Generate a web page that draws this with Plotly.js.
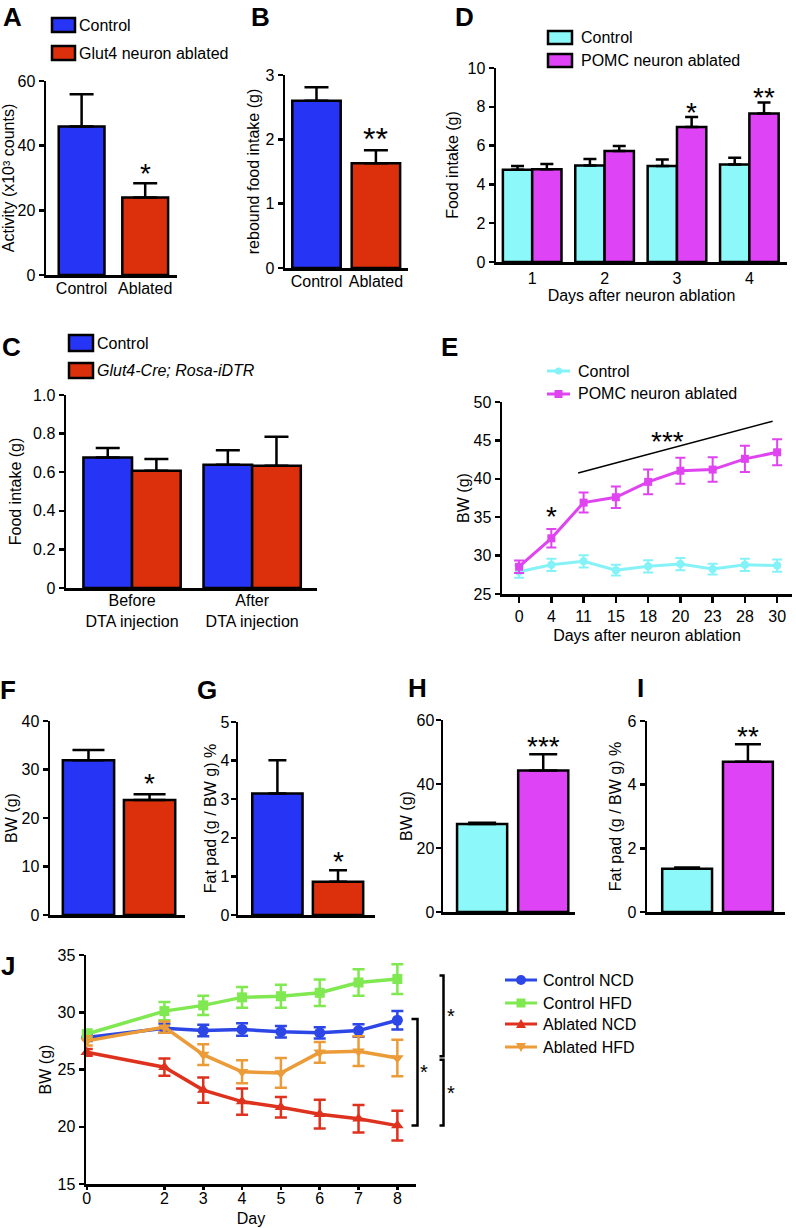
<!DOCTYPE html>
<html>
<head>
<meta charset="utf-8">
<script src="https://cdn.plot.ly/plotly-3.0.1.min.js"></script>
<style>
  html, body { margin: 0; padding: 0; background: #ffffff; }
  #chart { width: 796px; height: 1228px; }
</style>
</head>
<body>
<div id="chart"></div>
<script>
// ================= DATA =================
// Panel A – activity
const aCategories = ['Control', 'Ablated'];
const aActivity = [45.9, 24.0];
const aActivityErr = [10.0, 4.4];
const aStars = ['', '*'];
const aLegend = ['Control', 'Glut4 neuron ablated'];

// Panel B – rebound food intake
const bCategories = ['Control', 'Ablated'];
const bRebound = [2.60, 1.63];
const bReboundErr = [0.21, 0.20];
const bStars = ['', '**'];

// Panel C – food intake before / after DTA
const cCategories = ['Before<br>DTA injection', 'After<br>DTA injection'];
const cControl = [0.676, 0.638];
const cControlErr = [0.049, 0.076];
const cGlut4 = [0.607, 0.633];
const cGlut4Err = [0.061, 0.151];
const cLegend = ['Control', 'Glut4-Cre; Rosa-iDTR'];
const cTickVals = [0, 0.2, 0.4, 0.6, 0.8, 1.0];
const cTickText = ['0', '0.2', '0.4', '0.6', '0.8', '1.0'];

// Panel D – food intake after POMC ablation
const dDays = ['1', '2', '3', '4'];
const dControl = [4.76, 4.98, 4.95, 5.02];
const dControlErr = [0.19, 0.33, 0.33, 0.36];
const dPomc = [4.78, 5.72, 6.96, 7.65];
const dPomcErr = [0.27, 0.26, 0.52, 0.57];
const dStars = ['', '', '*', '**'];
const dLegend = ['Control', 'POMC neuron ablated'];

// Panel E – body weight time course
const eDays = ['0', '4', '11', '15', '18', '20', '23', '28', '30'];
const eControl = [27.9, 28.8, 29.25, 28.1, 28.6, 28.9, 28.25, 28.8, 28.7];
const eControlErr = [0.8, 0.8, 0.8, 0.7, 0.8, 0.8, 0.7, 0.8, 0.8];
const ePomc = [28.55, 32.25, 36.9, 37.6, 39.6, 41.05, 41.2, 42.6, 43.45];
const ePomcErr = [0.8, 1.2, 1.3, 1.4, 1.6, 1.7, 1.6, 1.7, 1.7];
const eLegend = ['Control', 'POMC neuron ablated'];

// Panels F, G – Glut4 ablation
const fgCategories = ['Control', 'Glut4 neuron ablated'];
const fBW = [31.9, 23.7];
const fBWErr = [2.1, 1.2];
const fStars = ['', '*'];
const gFat = [3.15, 0.86];
const gFatErr = [0.86, 0.30];
const gStars = ['', '*'];

// Panels H, I – POMC ablation
const hiCategories = ['Control', 'POMC neuron ablated'];
const hBW = [27.5, 44.2];
const hBWErr = [0.4, 5.1];
const hStars = ['', '***'];
const iFat = [1.36, 4.72];
const iFatErr = [0.04, 0.55];
const iStars = ['', '**'];

// Panel J – diet time course
const jDays = [0, 2, 3, 4, 5, 6, 7, 8];
const jControlNCD = [27.8, 28.6, 28.4, 28.5, 28.3, 28.2, 28.4, 29.3];
const jControlNCDErr = [0.3, 0.4, 0.5, 0.55, 0.5, 0.5, 0.55, 0.8];
const jControlHFD = [28.1, 30.1, 30.6, 31.3, 31.4, 31.7, 32.6, 32.9];
const jControlHFDErr = [0.4, 0.8, 0.85, 0.9, 1.0, 1.15, 1.15, 1.3];
const jAblatedNCD = [26.5, 25.2, 23.2, 22.2, 21.7, 21.1, 20.7, 20.1];
const jAblatedNCDErr = [0.3, 0.75, 1.1, 1.15, 0.9, 1.25, 1.2, 1.3];
const jAblatedHFD = [27.5, 28.7, 26.3, 24.8, 24.7, 26.5, 26.6, 26.0];
const jAblatedHFDErr = [0.4, 0.5, 0.9, 1.0, 1.3, 0.9, 1.3, 1.6];
const jLegend = ['Control NCD', 'Control HFD', 'Ablated NCD', 'Ablated HFD'];

// ================= STYLE / LAYOUT =================
const W = 796, H = 1228;
const X = p => p / W;
const Y = p => 1 - p / H;
const FONT = '"Liberation Sans", Arial, Helvetica, sans-serif';
const BLACK = '#000000';
const COL = {
  blue: '#2634f5', red: '#dc300c', cyan: '#8cf8fa', magenta: '#de44f5',
  eCyan: '#84f2f6', eMagenta: '#e043f0',
  jBlue: '#2d46e6', jGreen: '#80e850', jRed: '#de321e', jOrange: '#eb9b37'
};
const BARGAP = 0.19;

// plot-area boxes in pixels
const box = {
  A: {x: [46, 177], y: [81, 275]},
  B: {x: [285, 408], y: [75, 268]},
  C: {x: [66, 317], y: [395, 588]},
  D: {x: [496, 787], y: [68, 262]},
  E: {x: [502, 792], y: [402, 594]},
  F: {x: [50, 185], y: [721, 915]},
  G: {x: [238, 375], y: [722, 915]},
  H: {x: [443, 575], y: [720, 912]},
  I: {x: [647, 785], y: [721, 912]},
  J: {x: [86, 416], y: [955, 1184]}
};
const axNum = {A: 1, B: 2, C: 3, D: 4, E: 5, F: 6, G: 7, H: 8, I: 9, J: 10};
const sfx = k => (axNum[k] === 1 ? '' : String(axNum[k]));

const layout = {
  width: W, height: H,
  margin: {l: 0, r: 0, t: 0, b: 0},
  paper_bgcolor: '#ffffff', plot_bgcolor: 'rgba(0,0,0,0)',
  showlegend: false, barmode: 'group', bargap: BARGAP, bargroupgap: 0,
  font: {family: FONT, size: 16, color: BLACK},
  annotations: [], shapes: []
};

const tickFont = {family: FONT, size: 16, color: BLACK};
const titleFont = {family: FONT, size: 16, color: BLACK};

function addAxes(k, xo, yo) {
  const s = sfx(k), b = box[k];
  layout['xaxis' + s] = Object.assign({
    domain: [X(b.x[0]), X(b.x[1])], anchor: 'y' + s,
    showline: true, linecolor: BLACK, linewidth: 2.5, showgrid: false, zeroline: false,
    ticks: '', tickfont: tickFont, fixedrange: true, automargin: false
  }, xo);
  layout['yaxis' + s] = Object.assign({
    domain: [Y(b.y[1]), Y(b.y[0])], anchor: 'x' + s,
    showline: true, linecolor: BLACK, linewidth: 2.5, showgrid: false, zeroline: false,
    ticks: 'outside', ticklen: 5, tickwidth: 2.5, tickcolor: BLACK,
    tickfont: tickFont, fixedrange: true, automargin: false
  }, yo);
}
const yTitle = (text, standoff) => ({text: text, font: titleFont, standoff: standoff});

addAxes('A', {type: 'category', range: [-0.56, 1.5], ticklabelstandoff: -3},
  {range: [0, 60], dtick: 20, title: yTitle('Activity (x10³ counts)', 2)});
addAxes('B', {type: 'category', range: [-0.53, 1.54], ticklabelstandoff: -3},
  {range: [0, 3], dtick: 1, title: yTitle('rebound food intake (g)', 2)});
addAxes('C', {type: 'category', range: [-0.55, 1.54], ticklabelstandoff: -4},
  {range: [0, 1], tickvals: cTickVals, ticktext: cTickText, title: yTitle('Food intake (g)', 8)});
addAxes('D', {type: 'category', range: [-0.5, 3.52], title: {text: 'Days after neuron ablation', font: titleFont, standoff: 4}},
  {range: [0, 10], dtick: 2, title: yTitle('Food intake (g)', 5)});
addAxes('E', {type: 'category', range: [-0.53, 8.46], ticks: 'outside', ticklen: 6, tickwidth: 2.5, tickcolor: BLACK,
  title: {text: 'Days after neuron ablation', font: titleFont, standoff: 6}},
  {range: [25, 50], dtick: 5, title: yTitle('BW (g)', 0)});
addAxes('F', {type: 'category', range: [-0.63, 1.58], showticklabels: false},
  {range: [0, 40], dtick: 10, title: yTitle('BW (g)', 0)});
addAxes('G', {type: 'category', range: [-0.65, 1.61], showticklabels: false},
  {range: [0, 5], dtick: 1, ticklabelstandoff: -2, title: yTitle('Fat pad (g / BW g) %', 0)});
addAxes('H', {type: 'category', range: [-0.64, 1.52], showticklabels: false},
  {range: [0, 60], dtick: 20, ticklabelstandoff: -2, title: yTitle('BW (g)', 0)});
addAxes('I', {type: 'category', range: [-0.66, 1.61], showticklabels: false},
  {range: [0, 6], dtick: 2, title: yTitle('Fat pad (g / BW g) %', 2)});
addAxes('J', {range: [-0.02, 8.48], tickvals: jDays, ticks: 'outside', ticklen: 3, tickwidth: 2.5, tickcolor: BLACK,
  ticklabelstandoff: -5, title: {text: 'Day', font: titleFont, standoff: 7}},
  {range: [15, 35], dtick: 5, title: yTitle('BW (g)', 2)});

// ================= TRACES =================
const traces = [];
function bars(k, cats, vals, errs, color, name, capW, width) {
  const s = sfx(k);
  const t = {
    type: 'bar', x: cats, y: vals, name: name, xaxis: 'x' + s, yaxis: 'y' + s,
    marker: {color: color, line: {color: BLACK, width: 2.5}},
    error_y: {type: 'data', symmetric: false, array: errs, arrayminus: errs.map(() => 0),
      color: BLACK, thickness: 2.5, width: capW},
    cliponaxis: false, hoverinfo: 'skip'
  };
  if (width) t.width = width;
  traces.push(t);
}
bars('A', aCategories, aActivity, aActivityErr, [COL.blue, COL.red], 'Activity', 12, 0.72);
bars('B', bCategories, bRebound, bReboundErr, [COL.blue, COL.red], 'Rebound', 12, 0.815);
bars('C', cCategories, cControl, cControlErr, COL.blue, cLegend[0], 12);
bars('C', cCategories, cGlut4, cGlut4Err, COL.red, cLegend[1], 12);
bars('D', dDays, dControl, dControlErr, COL.cyan, dLegend[0], 6.5);
bars('D', dDays, dPomc, dPomcErr, COL.magenta, dLegend[1], 6.5);
bars('F', fgCategories, fBW, fBWErr, [COL.blue, COL.red], 'BW', 16, 0.84);
bars('G', fgCategories, gFat, gFatErr, [COL.blue, COL.red], 'Fat pad', 9, 0.83);
bars('H', hiCategories, hBW, hBWErr, [COL.cyan, COL.magenta], 'BW', 14, 0.82);
bars('I', hiCategories, iFat, iFatErr, [COL.cyan, COL.magenta], 'Fat pad', 13, 0.82);

function lineSeries(k, xs, ys, errs, color, symbol, msize, lw, errW, capW, name) {
  const s = sfx(k);
  traces.push({
    type: 'scatter', mode: 'lines+markers', x: xs, y: ys, name: name, xaxis: 'x' + s, yaxis: 'y' + s,
    line: {color: color, width: lw},
    marker: {symbol: symbol, size: msize, color: color},
    error_y: {type: 'data', array: errs, color: color, thickness: errW, width: capW},
    cliponaxis: false, hoverinfo: 'skip'
  });
}
lineSeries('E', eDays, eControl, eControlErr, COL.eCyan, 'circle', 8, 3, 2, 5, eLegend[0]);
lineSeries('E', eDays, ePomc, ePomcErr, COL.eMagenta, 'square', 8, 3, 2, 5, eLegend[1]);
lineSeries('J', jDays, jControlNCD, jControlNCDErr, COL.jBlue, 'circle', 11, 3.5, 2.5, 6, jLegend[0]);
lineSeries('J', jDays, jControlHFD, jControlHFDErr, COL.jGreen, 'square', 10, 3.5, 2.5, 6, jLegend[1]);
lineSeries('J', jDays, jAblatedNCD, jAblatedNCDErr, COL.jRed, 'triangle-up', 11, 3.5, 2.5, 6, jLegend[2]);
lineSeries('J', jDays, jAblatedHFD, jAblatedHFDErr, COL.jOrange, 'triangle-down', 11, 3.5, 2.5, 6, jLegend[3]);

// ================= ANNOTATIONS / SHAPES =================
const A = layout.annotations, S = layout.shapes;
function text(x, y, t, size, opts, fontExtra) {
  A.push(Object.assign({xref: 'paper', yref: 'paper', x: X(x), y: Y(y), text: t, showarrow: false,
    xanchor: 'center', yanchor: 'middle',
    font: Object.assign({family: FONT, size: size, color: BLACK}, fontExtra || {})}, opts || {}));
}
// panel letters
[['A', 12, 17], ['B', 260, 17], ['D', 464, 17], ['C', 11, 347], ['E', 449, 347],
 ['F', 8, 690], ['G', 207, 690], ['H', 417, 688], ['I', 640, 688], ['J', 8, 966]]
  .forEach(([t, x, y]) => text(x, y, t, 26, null, {weight: 'bold'}));

// significance stars above bars
function stars(k, vals, errs, st, off, size, dx) {
  const s = sfx(k);
  st.forEach((v, i) => {
    if (!v) return;
    A.push({xref: 'x' + s, yref: 'y' + s, x: i + (dx || 0), y: vals[i] + errs[i], text: v, showarrow: false,
      xanchor: 'center', yanchor: 'middle', yshift: off - 0.225 * size,
      font: {family: FONT, size: size, color: BLACK}});
  });
}
stars('A', aActivity, aActivityErr, aStars, 16, 28);
stars('B', bRebound, bReboundErr, bStars, 18, 32);
stars('D', dPomc, dPomcErr, dStars, 11, 28, (1 - BARGAP) / 4);
stars('F', fBW, fBWErr, fStars, 17, 28);
stars('G', gFat, gFatErr, gStars, 15, 28);
stars('H', hBW, hBWErr, hStars, 14, 28);
stars('I', iFat, iFatErr, iStars, 14, 28);

// legend boxes (bar panels)
function boxKey(x0, y0, x1, y1, fill, label, tx, fontExtra) {
  S.push({type: 'rect', xref: 'paper', yref: 'paper', x0: X(x0), x1: X(x1), y0: Y(y1), y1: Y(y0),
    fillcolor: fill, line: {color: BLACK, width: 2.5}, layer: 'above'});
  text(tx, (y0 + y1) / 2, label, 16, {xanchor: 'left'}, fontExtra);
}
boxKey(52, 18, 75, 32, COL.blue, aLegend[0], 77);
boxKey(52, 46, 75, 60, COL.red, aLegend[1], 77);
boxKey(69, 335, 93, 351, COL.blue, cLegend[0], 95);
boxKey(69, 363, 93, 378, COL.red, cLegend[1], 95, {style: 'italic'});
boxKey(548, 31, 572, 44, COL.cyan, dLegend[0], 579);
boxKey(548, 54, 572, 67, COL.magenta, dLegend[1], 579);

// line legends
function lineKey(x0, x1, y, color, sym, r, label, tx, lw) {
  S.push({type: 'line', xref: 'paper', yref: 'paper', x0: X(x0), x1: X(x1), y0: Y(y), y1: Y(y),
    line: {color: color, width: lw}});
  const cx = (x0 + x1) / 2;
  if (sym === 'circle') {
    S.push({type: 'circle', xref: 'paper', yref: 'paper', x0: X(cx - r), x1: X(cx + r), y0: Y(y + r), y1: Y(y - r),
      fillcolor: color, line: {width: 0}});
  } else if (sym === 'square') {
    S.push({type: 'rect', xref: 'paper', yref: 'paper', x0: X(cx - r), x1: X(cx + r), y0: Y(y + r), y1: Y(y - r),
      fillcolor: color, line: {width: 0}});
  } else {
    const up = sym === 'up';
    const p = up
      ? `M ${X(cx - r)} ${Y(y + r * 0.8)} L ${X(cx + r)} ${Y(y + r * 0.8)} L ${X(cx)} ${Y(y - r)} Z`
      : `M ${X(cx - r)} ${Y(y - r * 0.8)} L ${X(cx + r)} ${Y(y - r * 0.8)} L ${X(cx)} ${Y(y + r)} Z`;
    S.push({type: 'path', xref: 'paper', yref: 'paper', path: p, fillcolor: color, line: {width: 0}});
  }
  text(tx, y, label, 16, {xanchor: 'left'});
}
lineKey(547, 570, 371, COL.eCyan, 'circle', 3.5, eLegend[0], 576, 3);
lineKey(547, 570, 394, COL.eMagenta, 'square', 4, eLegend[1], 576, 3);
lineKey(505, 537, 980, COL.jBlue, 'circle', 5, jLegend[0], 541, 3);
lineKey(505, 537, 1003, COL.jGreen, 'square', 4.5, jLegend[1], 541, 3);
lineKey(505, 537, 1024, COL.jRed, 'up', 5, jLegend[2], 541, 3);
lineKey(505, 537, 1047, COL.jOrange, 'down', 5, jLegend[3], 541, 3);

// panel E significance
S.push({type: 'line', xref: 'x5', yref: 'y5', x0: 1.83, y0: 40.75, x1: 7.86, y1: 47.5, line: {color: BLACK, width: 1.5}});
A.push({xref: 'x5', yref: 'y5', x: 1, y: 35.9, text: '*', showarrow: false, yshift: -6,
  font: {family: FONT, size: 28, color: BLACK}});
A.push({xref: 'x5', yref: 'y5', x: 4.61, y: 45.7, text: '***', showarrow: false, yshift: -6,
  font: {family: FONT, size: 28, color: BLACK}});

// panel J brackets (x in px, y from data values at day 8)
const jb = box.J;
const jPY = v => jb.y[1] - (v - 15) / 20 * (jb.y[1] - jb.y[0]);   // data -> pixel y
const last = a => a[a.length - 1];
function bracket(xv, xstub, vTop, vBot, starX) {
  const t = jPY(vTop), b = jPY(vBot);
  S.push({type: 'path', xref: 'paper', yref: 'paper',
    path: `M ${X(xstub)} ${Y(t)} L ${X(xv)} ${Y(t)} L ${X(xv)} ${Y(b)} L ${X(xstub)} ${Y(b)}`,
    line: {color: BLACK, width: 2.5}});
  text(starX, (t + b) / 2, '*', 20);
}
bracket(417.5, 411.5, last(jControlNCD) + 0.1, last(jAblatedNCD), 423.5);
bracket(443.5, 439.5, last(jControlHFD) + 0.3, last(jAblatedHFD) + 0.15, 451);
bracket(443.5, 439.5, last(jAblatedHFD) - 0.15, last(jAblatedNCD), 451);

Plotly.newPlot('chart', traces, layout, {staticPlot: true, displayModeBar: false});
</script>
</body>
</html>
